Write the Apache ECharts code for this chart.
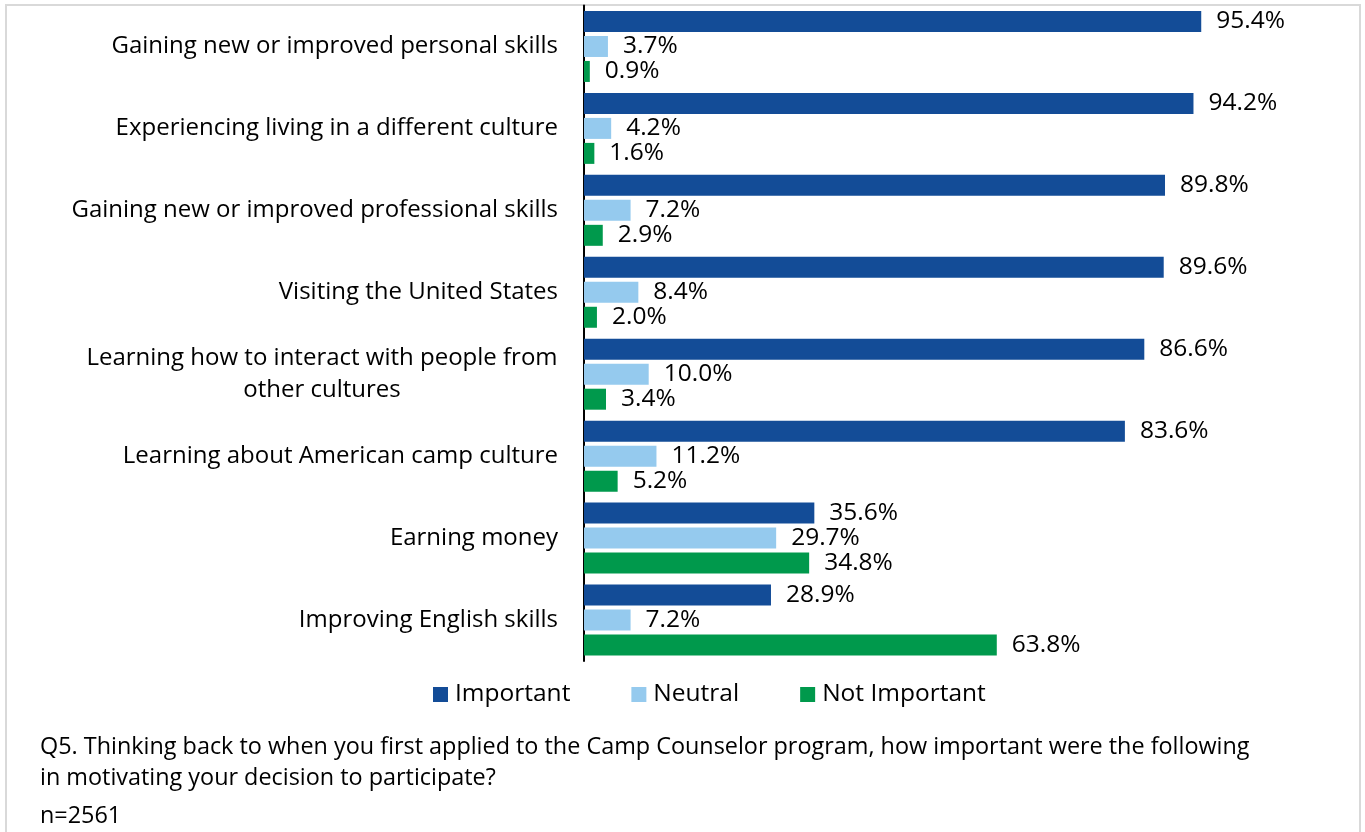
<!DOCTYPE html>
<html>
<head>
<meta charset="utf-8">
<script src="https://cdn.jsdelivr.net/npm/echarts@6/dist/echarts.min.js"></script>
<style>
  html, body { margin: 0; padding: 0; background: #ffffff; }
  #chart { width: 1365px; height: 832px; }
</style>
</head>
<body>
<div id="chart"></div>
<script>
// Survey motivations, share of respondents per rating
const categories = [
  'Gaining new or improved personal skills',
  'Experiencing living in a different culture',
  'Gaining new or improved professional skills',
  'Visiting the United States',
  'Learning how to interact with people from\nother cultures',
  'Learning about American camp culture',
  'Earning money',
  'Improving English skills'
];
const seriesNames = ['Important', 'Neutral', 'Not Important'];
const important = [95.4, 94.2, 89.8, 89.6, 86.6, 83.6, 35.6, 28.9];
const neutral = [3.7, 4.2, 7.2, 8.4, 10.0, 11.2, 29.7, 7.2];
const notImportant = [0.9, 1.6, 2.9, 2.0, 3.4, 5.2, 34.8, 63.8];
const footnoteQuestion = [
  'Q5. Thinking back to when you first applied to the Camp Counselor program, how important were the following',
  'in motivating your decision to participate?'
];
const footnoteSample = 'n=2561';

const FONT = '"Open Sans", sans-serif';
const FS = 24;
const FS_VALUE = 24.5;
const FS_NOTE = 23.4;
const colors = ['#134c97', '#95caee', '#00994c'];

// measure the widest line of a multi-line label so its lines can be centred in one block
const ctx = document.createElement('canvas').getContext('2d');
ctx.font = FS + 'px ' + FONT;
function blockWidth(text) {
  return Math.ceil(Math.max.apply(null, text.split('\n').map(l => ctx.measureText(l).width)));
}
const richStyles = {};
const labelText = {};
categories.forEach((c, i) => {
  if (c.indexOf('\n') >= 0) {
    const key = 'm' + i;
    richStyles[key] = { width: blockWidth(c), align: 'center', fontSize: FS, fontFamily: FONT, color: '#000', lineHeight: 32 };
    labelText[c] = c.split('\n').map(l => '{' + key + '|' + l + '}').join('\n');
  } else {
    labelText[c] = c;
  }
});

const chart = echarts.init(document.getElementById('chart'), null, { renderer: 'canvas' });

function barSeries(name, data, color) {
  return {
    name: name,
    type: 'bar',
    data: data,
    barGap: '19%',
    barCategoryGap: '13.4%',
    itemStyle: { color: color },
    label: {
      show: true,
      position: 'right',
      distance: 15,
      color: '#000',
      fontSize: FS_VALUE,
      fontFamily: FONT,
      formatter: p => p.value.toFixed(1) + '%'
    },
    emphasis: { disabled: true },
    animation: false
  };
}

chart.setOption({
  animation: false,
  textStyle: { fontFamily: FONT },
  grid: { left: 584, right: 134, top: 5.5, bottom: 171, containLabel: false },
  legend: {
    data: seriesNames,
    left: 428,
    top: 677,
    icon: 'rect',
    itemWidth: 15,
    itemHeight: 15,
    itemGap: 61,
    textStyle: { fontSize: FS_VALUE, fontFamily: FONT, color: '#000', padding: [0, 0, 0, 2] },
    selectedMode: false
  },
  xAxis: {
    type: 'value',
    min: 0,
    max: 100,
    show: false,
    splitLine: { show: false }
  },
  yAxis: {
    type: 'category',
    data: categories,
    inverse: true,
    axisLine: { show: true, lineStyle: { color: '#000', width: 2 } },
    axisTick: { show: false },
    axisLabel: {
      margin: 26,
      fontSize: FS,
      fontFamily: FONT,
      color: '#000',
      lineHeight: 32,
      formatter: v => labelText[v],
      rich: richStyles
    }
  },
  series: [
    barSeries(seriesNames[0], important, colors[0]),
    barSeries(seriesNames[1], neutral, colors[1]),
    barSeries(seriesNames[2], notImportant, colors[2])
  ],
  graphic: [
    {
      type: 'rect',
      shape: { x: 6, y: 5, width: 1354, height: 840 },
      style: { fill: 'none', stroke: '#d9d9d9', lineWidth: 2 },
      silent: true
    },
    {
      type: 'text',
      x: 40,
      y: 762.5,
      style: {
        text: footnoteQuestion.join('\n'),
        fontSize: FS_NOTE,
        fontFamily: FONT,
        fill: '#000',
        lineHeight: 31,
        verticalAlign: 'middle'
      },
      silent: true
    },
    {
      type: 'text',
      x: 40,
      y: 816,
      style: {
        text: footnoteSample,
        fontSize: FS_NOTE,
        fontFamily: FONT,
        fill: '#000',
        verticalAlign: 'middle'
      },
      silent: true
    }
  ]
});
</script>
</body>
</html>
